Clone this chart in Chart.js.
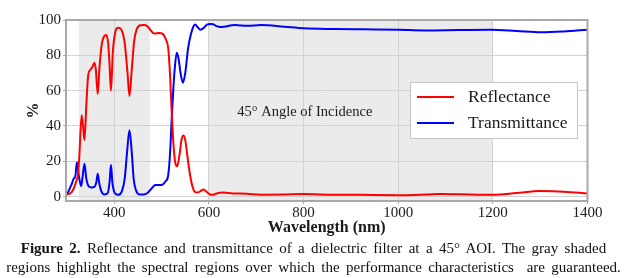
<!DOCTYPE html>
<html>
<head>
<meta charset="utf-8">
<script src="https://cdn.jsdelivr.net/npm/chart.js@4.4.1/dist/chart.umd.min.js"></script>
<style>
  html, body { margin: 0; padding: 0; background: #fff; }
  #wrap { position: relative; width: 627px; height: 278px; overflow: hidden; }
  #c { position: absolute; left: 0; top: 0; }
  #caption { position: absolute; left: 0; top: 239px; width: 627px; text-align: center;
    font-family: "Liberation Serif", "Times New Roman", serif; font-size: 15px; line-height: 19px;
    color: #111; white-space: nowrap; word-spacing: 2.6px; }
</style>
</head>
<body>
<div id="wrap">
  <canvas id="c" width="627" height="278"></canvas>
  <div id="caption"><b>Figure 2.</b> Reflectance and transmittance of a dielectric filter at a 45° AOI. The gray shaded<br>regions highlight the spectral regions over which the performance characteristics&nbsp; are guaranteed.</div>
</div>
<script>
// ---- data ----
const reflWavelengths = [300,305,310,315,320,323,326,331,334,337,341,345,350,354,358,361,365,369,374,378,383,387,390,393,397,402,408,415,422,428,432,437,442,447,455,463,470,476,484,495,503,509,514,518,521,525,529,533,538,542,546,550,555,560,566,571,577,583,588,594,600,608,616,630,650,680,710,760,800,860,920,1000,1060,1090,1130,1200,1250,1300,1350,1400];
const reflectance = [1.2,1.5,2.5,5,9,12,22,46,40,32,52,69,72,73.5,75.8,72,58,74,87,90.5,91.5,87,75,60,82,93,95.6,94.5,87,70,57,72,88,94.5,97,97.2,96.5,94.5,92.4,92.6,92,89,84,68,50,30,19,17.2,24,32,34.6,32,22,12.5,5,2.5,2.3,3.2,4.0,3,1.6,1.0,1.8,2.3,1.8,1.6,1.1,1.2,1.4,1.1,1.0,0.8,1.2,1.5,1.3,1.0,2.0,3.1,2.8,1.8];
const transWavelengths = [300,305,310,314,318,321,325,330,333,337,341,346,352,358,362,365,368,372,379,386,390,393,396,401,408,416,422,427,432,437,441,446,454,462,470,479,487,500,508,514,518,521,525,528,532,536,540,545,550,556,562,567,571,576,582,589,596,603,609,616,625,632,654,682,710,759,801,865,925,999,1055,1126,1196,1250,1302,1350,1400];
const transmittance = [1.2,4,7,10,12,19.5,12,6,11,18.6,10,5.8,5.2,5.5,8,13,8,3.5,1.2,2,8,18,8,2,1,3,10,25,37.5,25,10,3.5,1.2,1.2,2,4.6,6.5,6.5,8.5,12.2,25,42,62,73,81.5,78,70,64.5,70,84,92,96.2,97.4,96,94.5,95.5,97.4,97.7,97.6,96.5,96,96.2,97.2,96.7,97.2,96.2,95.3,94.9,94.7,94.5,94.1,94.3,94.5,93.8,93,93.5,94.5];
const seriesLabels = ["Reflectance", "Transmittance"];
const shadedRegions = [[325, 475], [600, 1200]];
const xTickValues = [400, 600, 800, 1000, 1200, 1400];
const yTickValues = [0, 20, 40, 60, 80, 100];
const annotationText = "45° Angle of Incidence";
const annotationAt = [660, 48];
const xTitle = "Wavelength (nm)";
const yTitle = "%";

const SERIF = '"Liberation Serif", "Times New Roman", serif';

const toPoints = (xs, ys) => xs.map((x, i) => ({ x: x, y: ys[i] }));

const shadePlugin = {
  id: 'shade',
  beforeDraw(chart) {
    const { ctx, chartArea, scales } = chart;
    ctx.save();
    ctx.fillStyle = '#ebebeb';
    shadedRegions.forEach(([a, b]) => {
      const x1 = Math.max(scales.x.getPixelForValue(a), chartArea.left);
      const x2 = Math.min(scales.x.getPixelForValue(b), chartArea.right);
      ctx.fillRect(x1, chartArea.top, x2 - x1, chartArea.bottom - chartArea.top);
    });
    ctx.restore();
  },
  afterDatasetsDraw(chart) {
    const { ctx, chartArea, scales } = chart;
    ctx.save();
    ctx.fillStyle = '#1a1a1a';
    ctx.font = '14.5px ' + SERIF;
    ctx.textAlign = 'left';
    ctx.textBaseline = 'middle';
    ctx.fillText(annotationText, scales.x.getPixelForValue(annotationAt[0]), scales.y.getPixelForValue(annotationAt[1]));
    ctx.strokeStyle = '#a9a9a9';
    ctx.lineWidth = 2;
    ctx.strokeRect(chartArea.left, chartArea.top, chartArea.right - chartArea.left, chartArea.bottom - chartArea.top);
    const w = 168, h = 57;
    const lx = chartArea.right - 9.5 - w, ly = chartArea.top + 62;
    ctx.fillStyle = '#ffffff';
    ctx.fillRect(lx, ly, w, h);
    ctx.strokeStyle = '#c4c4c4';
    ctx.lineWidth = 1;
    ctx.strokeRect(lx + 0.5, ly + 0.5, w - 1, h - 1);
    ctx.font = '17.5px ' + SERIF;
    ctx.textBaseline = 'middle';
    chart.data.datasets.forEach((ds, i) => {
      const yy = ly + 15 + i * 26;
      ctx.strokeStyle = ds.borderColor;
      ctx.lineWidth = 2;
      ctx.beginPath();
      ctx.moveTo(lx + 7, yy);
      ctx.lineTo(lx + 44, yy);
      ctx.stroke();
      ctx.fillStyle = '#1a1a1a';
      ctx.fillText(ds.label, lx + 58, yy);
    });
    ctx.restore();
  }
};

new Chart(document.getElementById('c'), {
  type: 'line',
  data: {
    datasets: [
      { label: seriesLabels[0], data: toPoints(reflWavelengths, reflectance), borderColor: '#ff0000', borderWidth: 2, pointRadius: 0, cubicInterpolationMode: 'monotone', fill: false },
      { label: seriesLabels[1], data: toPoints(transWavelengths, transmittance), borderColor: '#0000ff', borderWidth: 2, pointRadius: 0, cubicInterpolationMode: 'monotone', fill: false }
    ]
  },
  options: {
    responsive: false,
    animation: false,
    events: [],
    layout: { padding: { left: 0, top: 20, right: 39.5, bottom: 41 } },
    plugins: { legend: { display: false }, tooltip: { enabled: false } },
    scales: {
      x: {
        type: 'linear', min: 298, max: 1400,
        afterBuildTicks(scale) { scale.ticks = xTickValues.map(v => ({ value: v })); },
        afterFit(scale) { scale.height = 36; },
        grid: { color: '#d2d2d2', lineWidth: 1, tickLength: 3, tickColor: '#a9a9a9' },
        border: { display: false },
        ticks: { color: '#1a1a1a', font: { family: SERIF, size: 15 }, padding: 0, maxRotation: 0, callback: v => String(v) },
        title: { display: true, text: xTitle, color: '#1a1a1a', font: { family: SERIF, size: 16, weight: 'bold' }, padding: { top: 0, bottom: 0 } }
      },
      y: {
        type: 'linear', min: -2.5, max: 100,
        afterBuildTicks(scale) { scale.ticks = yTickValues.map(v => ({ value: v })); },
        afterFit(scale) { scale.width = 66; },
        grid: { color: '#d2d2d2', lineWidth: 1, tickLength: 3, tickColor: '#a9a9a9' },
        border: { display: false },
        ticks: { color: '#1a1a1a', font: { family: SERIF, size: 15 }, padding: 2, callback: v => String(v) },
        title: { display: true, text: yTitle, color: '#1a1a1a', font: { family: SERIF, size: 16, weight: 'bold' }, padding: { top: 24, bottom: 0 } }
      }
    }
  },
  plugins: [shadePlugin]
});
</script>
</body>
</html>
